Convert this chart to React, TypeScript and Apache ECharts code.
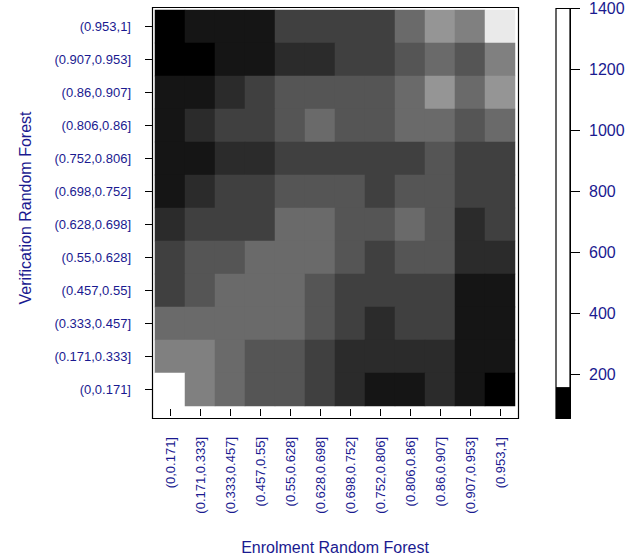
import React, { useEffect, useRef } from "react";
import * as echarts from "echarts";

const enrolBins = [
  "(0,0.171]", "(0.171,0.333]", "(0.333,0.457]", "(0.457,0.55]", "(0.55,0.628]", "(0.628,0.698]",
  "(0.698,0.752]", "(0.752,0.806]", "(0.806,0.86]", "(0.86,0.907]", "(0.907,0.953]", "(0.953,1]",
];
const verifBins = [
  "(0,0.171]", "(0.171,0.333]", "(0.333,0.457]", "(0.457,0.55]", "(0.55,0.628]", "(0.628,0.698]",
  "(0.698,0.752]", "(0.752,0.806]", "(0.806,0.86]", "(0.86,0.907]", "(0.907,0.953]", "(0.953,1]",
];

// grey level per cell (0 = black ... 12 = white), rows listed from top (0.953,1] to bottom (0,0.171]
const rowsTopToBottom: number[][] = [
  [0, 1, 1, 1, 3, 3, 3, 3, 5, 7, 6, 11],
  [0, 0, 1, 1, 2, 2, 3, 3, 4, 5, 4, 6],
  [1, 1, 2, 3, 4, 4, 4, 4, 5, 7, 5, 7],
  [1, 2, 3, 3, 4, 5, 4, 4, 5, 5, 4, 5],
  [1, 1, 2, 2, 3, 3, 3, 3, 3, 4, 3, 3],
  [1, 2, 3, 3, 4, 4, 4, 3, 4, 4, 3, 3],
  [2, 3, 3, 3, 5, 5, 4, 4, 5, 4, 2, 3],
  [3, 4, 4, 5, 5, 5, 4, 3, 4, 4, 2, 2],
  [3, 4, 5, 5, 5, 4, 3, 3, 3, 3, 1, 1],
  [5, 5, 5, 5, 5, 4, 3, 2, 3, 3, 1, 1],
  [6, 6, 5, 4, 4, 3, 2, 2, 2, 2, 1, 1],
  [12, 6, 5, 4, 4, 3, 2, 1, 1, 2, 1, 0],
];

const legendBreaks = [55, 158, 1400];
const legendColors = ["#000000", "#ffffff"];
const legendTicks = [200, 400, 600, 800, 1000, 1200, 1400];

const BLUE = "#1a1a90";
const FONT = "Liberation Sans, Arial, Helvetica, sans-serif";

export default function App() {
  const ref = useRef<HTMLDivElement>(null);
  useEffect(() => {
    document.body.style.margin = "0";
    const chart = echarts.init(ref.current!, null, { renderer: "svg" });
    const data: number[][] = [];
    rowsTopToBottom.forEach((row, r) => {
      row.forEach((v, c) => data.push([c, rowsTopToBottom.length - 1 - r, v]));
    });
    chart.setOption({
      animation: false,
      backgroundColor: "#ffffff",
      textStyle: { fontFamily: FONT },
      grid: [
        { left: 155, top: 10, width: 360, height: 406 },
        { left: 556, top: 8.5, width: 14, height: 410 },
      ],
      visualMap: {
        show: false,
        seriesIndex: 0,
        min: 0,
        max: 12,
        inRange: { color: ["#000000", "#ffffff"] },
      },
      xAxis: [
        {
          type: "category",
          gridIndex: 0,
          data: enrolBins,
          position: "bottom",
          offset: 3,
          axisLine: { show: false },
          axisTick: { show: true, alignWithLabel: true, length: 7, lineStyle: { color: "#000", width: 1 } },
          axisLabel: { rotate: 90, margin: 28, fontSize: 13, color: BLUE, fontFamily: FONT, interval: 0 },
          splitLine: { show: false },
          name: "Enrolment Random Forest",
          nameLocation: "middle",
          nameGap: 130,
          nameTextStyle: { fontSize: 16, color: BLUE, fontFamily: FONT },
        },
        {
          type: "category",
          gridIndex: 1,
          data: ["legend"],
          show: false,
        },
      ],
      yAxis: [
        {
          type: "category",
          gridIndex: 0,
          data: verifBins,
          position: "left",
          offset: 3,
          axisLine: { show: false },
          axisTick: { show: true, alignWithLabel: true, length: 7, lineStyle: { color: "#000", width: 1 } },
          axisLabel: { margin: 21, fontSize: 13, color: BLUE, fontFamily: FONT, interval: 0 },
          splitLine: { show: false },
          name: "Verification Random Forest",
          nameLocation: "middle",
          nameGap: 119,
          nameTextStyle: { fontSize: 16, color: BLUE, fontFamily: FONT },
        },
        {
          type: "value",
          gridIndex: 1,
          position: "right",
          min: legendBreaks[0],
          max: legendBreaks[legendBreaks.length - 1],
          axisLine: { show: true, lineStyle: { color: "#000", width: 1 } },
          axisTick: { show: true, length: 10, customValues: legendTicks, lineStyle: { color: "#000", width: 1 } },
          axisLabel: {
            margin: 19,
            fontSize: 16,
            color: BLUE,
            fontFamily: FONT,
            customValues: legendTicks,
            formatter: (v: number) => String(v),
          },
          splitLine: { show: false },
        },
      ],
      series: [
        {
          type: "heatmap",
          xAxisIndex: 0,
          yAxisIndex: 0,
          data,
          itemStyle: { borderWidth: 0 },
          emphasis: { disabled: true },
        },
        ...legendColors.map((col, i) => ({
          type: "bar",
          xAxisIndex: 1,
          yAxisIndex: 1,
          stack: "legend",
          barWidth: "100%",
          clip: true,
          data: [i === 0 ? legendBreaks[1] : legendBreaks[i + 1] - legendBreaks[i]],
          itemStyle: { color: col },
          silent: true,
        })),
      ],
      graphic: [
        {
          type: "rect",
          z: 100,
          shape: { x: 152.5, y: 7.5, width: 366, height: 411 },
          style: { fill: "none", stroke: "#000", lineWidth: 1.2 },
        },
        {
          type: "rect",
          z: 100,
          shape: { x: 556, y: 8.5, width: 14, height: 410 },
          style: { fill: "none", stroke: "#000", lineWidth: 1.2 },
        },
      ],
    });
    return () => chart.dispose();
  }, []);
  return <div ref={ref} style={{ width: 629, height: 560 }} />;
}
